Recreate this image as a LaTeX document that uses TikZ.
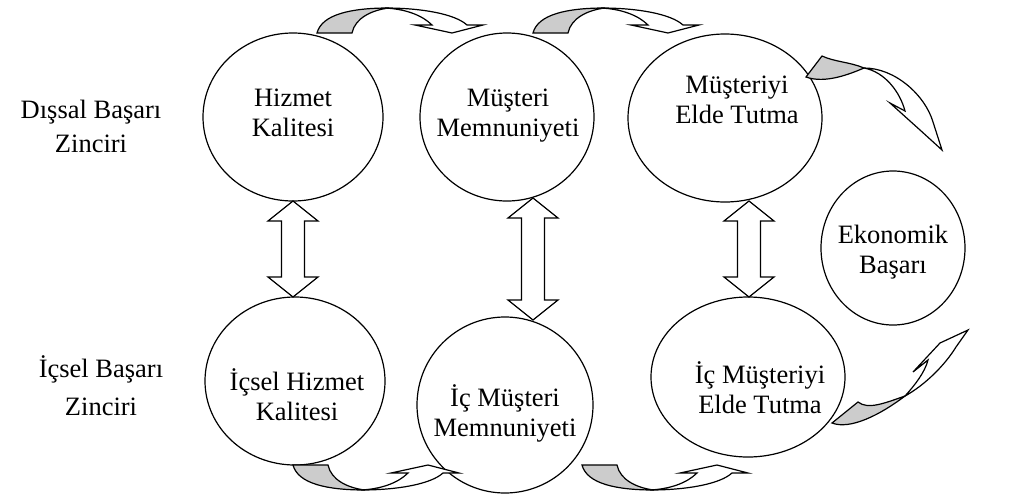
\documentclass[tikz,border=0pt]{standalone}
\usepackage{fontspec}
\setmainfont{Liberation Serif}
\usetikzlibrary{shapes.geometric}
\begin{document}
\begin{tikzpicture}[x=1pt,y=-1pt, line width=1.2pt, line join=miter,
  ell/.style={draw, ellipse, inner sep=0pt},
  lbl/.style={font=\fontsize{26.5}{30}\selectfont, align=center, anchor=base, inner sep=0pt},
  side/.style={font=\fontsize{26.5}{34}\selectfont, align=center, anchor=base, inner sep=0pt},
  blk/.style={draw, fill=white},
  shadepart/.style={draw, fill=gray!40},
  curvarr/.pic={
    \draw[shadepart] (0,0) .. controls (5,-19) and (35,-25) .. (72,-25) .. controls (55,-23) and (38,-15) .. (35,0) -- cycle;
    \draw[blk] (68,-25) .. controls (105,-25) and (138,-19) .. (150,-8) -- (166,-8) -- (135,0) -- (98,-8) -- (115,-8) .. controls (105,-18) and (88,-24) .. (68,-25) -- cycle;
  }]
\useasboundingbox (0,0) rectangle (1010,493);
% ellipses
\node[ell, minimum width=180pt, minimum height=168pt] (e1) at (293,117) {};
\node[ell, minimum width=174pt, minimum height=168pt] (e2) at (507,117) {};
\node[ell, minimum width=194pt, minimum height=168pt] (e3) at (725,118) {};
\node[ell, minimum width=144pt, minimum height=154pt] (e4) at (893,248) {};
\node[ell, minimum width=180pt, minimum height=168pt] (e5) at (295,381) {};
\node[ell, minimum width=176pt, minimum height=176pt] (e6) at (505,405) {};
\node[ell, minimum width=194pt, minimum height=160pt] (e7) at (748,377) {};
% texts
\node[lbl] (t1) at (293,136) {Hizmet\\Kalitesi};
\node[lbl] (t2) at (508,136) {Müşteri\\Memnuniyeti};
\node[lbl] (t3) at (737,123) {Müşteriyi\\Elde Tutma};
\node[lbl] (t4) at (893,273) {Ekonomik\\Başarı};
\node[lbl] (t5) at (297,420) {İçsel Hizmet\\Kalitesi};
\node[lbl] (t6) at (505,436) {İç Müşteri\\Memnuniyeti};
\node[lbl] (t7) at (760,413) {İç Müşteriyi\\Elde Tutma};
\node[side] (s1) at (91,152) {Dışsal Başarı\\Zinciri};
\node[side, font=\fontsize{26.5}{38}\selectfont] (s2) at (101,415) {İçsel Başarı\\Zinciri};
% double arrows
\newcommand{\dblarr}[3]{%
  \draw[blk] (#1,#2) -- (#1+25,#2+20) -- (#1+11.5,#2+20) -- (#1+11.5,#3-20) -- (#1+25,#3-20) -- (#1,#3) -- (#1-25,#3-20) -- (#1-11.5,#3-20) -- (#1-11.5,#2+20) -- (#1-25,#2+20) -- cycle;}
\dblarr{293}{201}{297}
\dblarr{533}{198}{320}
\dblarr{749}{201}{297}
% curved arrows top
\pic at (317,33) {curvarr};
\pic at (533,33) {curvarr};
% curved arrows bottom
\pic[yscale=-1] at (293,465) {curvarr};
\pic[yscale=-1] at (582,465) {curvarr};
% right curved arrows
\draw[shadepart] (832,423) -- (858,402) .. controls (868,410) and (885,403) .. (905,396) .. controls (880,415) and (850,430) .. (832,423) -- cycle;
\draw[blk] (905,396) .. controls (915,385) and (925,372) .. (928,360) -- (913,372) -- (940,343) -- (968,330) -- (956,347) .. controls (945,365) and (925,385) .. (905,396) -- cycle;
\draw[shadepart] (806,77) -- (822,56) .. controls (835,62) and (850,62) .. (864,68) .. controls (850,74) and (825,84) .. (806,77) -- cycle;
\draw[blk] (864,68) .. controls (885,72) and (900,92) .. (905,111) -- (890,103) -- (920,130) -- (942,150) -- (933,122) .. controls (925,95) and (895,68) .. (864,68) -- cycle;
\end{tikzpicture}
\end{document}
